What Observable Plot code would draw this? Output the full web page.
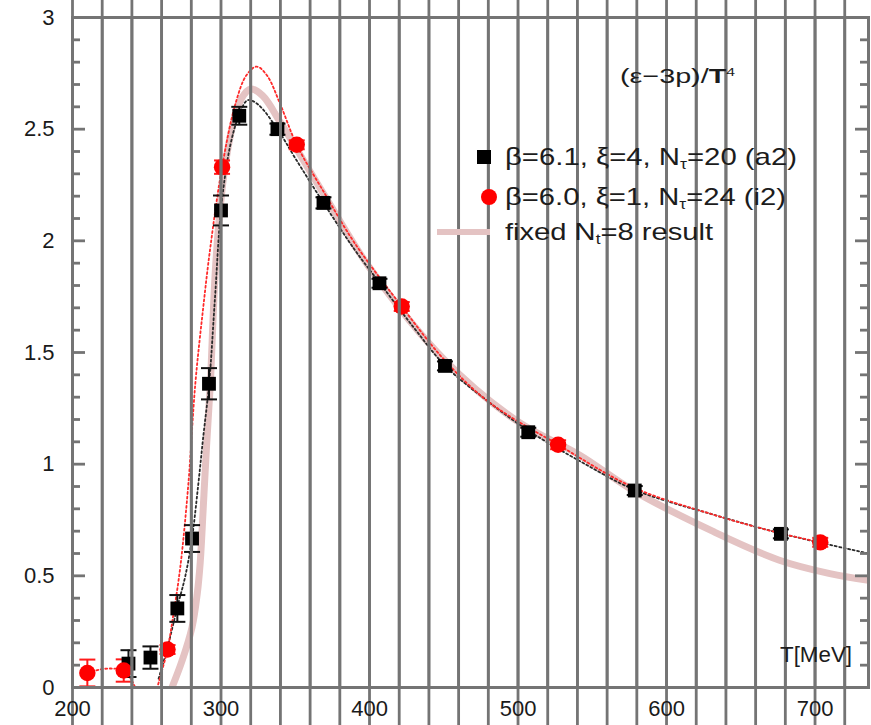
<!DOCTYPE html>
<html><head><meta charset="utf-8">
<script src="https://cdn.jsdelivr.net/npm/d3@7"></script>
<script src="https://cdn.jsdelivr.net/npm/@observablehq/plot@0.6"></script>
<style>
body{margin:0;background:#fff;}
#wrap{position:relative;width:871px;height:725px;font-family:"Liberation Sans",Arial,Helvetica,sans-serif;color:#1c1c1c;}
.lbl{position:absolute;white-space:nowrap;transform-origin:0 50%;line-height:1;}
.lbl sub{font-size:0.6em;vertical-align:-0.3em;line-height:0;}
.mk{position:absolute;}
</style></head><body><div id="wrap"></div>
<script>
// ---- data ----
// beta=6.1, xi=4, N_t=20 (a2): T [MeV], value, error
const a2T = [237.7, 252.5, 270.6, 280.5, 291.9, 300.0, 312.3, 338.0, 369.0, 406.7, 450.8, 506.9, 578.6, 677.0];
const a2V = [0.107, 0.134, 0.354, 0.667, 1.36, 2.136, 2.56, 2.50, 2.17, 1.81, 1.44, 1.143, 0.882, 0.688];
const a2E = [0.06, 0.05, 0.06, 0.06, 0.07, 0.067, 0.04, 0.025, 0.025, 0.02, 0.02, 0.02, 0.02, 0.02];
// beta=6.0, xi=1, N_t=24 (i2)
const i2T = [210.0, 234.5, 264.0, 300.7, 351.0, 421.7, 527.0, 703.5];
const i2V = [0.065, 0.076, 0.17, 2.33, 2.43, 1.706, 1.087, 0.65];
const i2E = [0.06, 0.05, 0.02, 0.03, 0.02, 0.02, 0.02, 0.02];
// dotted interpolation through a2
const fitA2T = [258, 264, 270.6, 276, 280.5, 284.7, 288, 292, 296, 300, 306, 312, 318, 325, 338, 350, 369, 390, 407, 430, 451, 480, 507, 540, 578.6, 631, 677, 736];
const fitA2V = [0.04, 0.18, 0.36, 0.5, 0.67, 0.91, 1.12, 1.36, 1.75, 2.14, 2.42, 2.56, 2.63, 2.61, 2.50, 2.37, 2.17, 1.96, 1.81, 1.61, 1.44, 1.28, 1.15, 1.02, 0.885, 0.775, 0.69, 0.60];
// dotted interpolation through i2
const fitI2T = [210, 218, 226, 234.5, 240, 244, 250, 257, 260, 264, 268, 272.6, 278, 282.7, 288, 292.8, 300.7, 310, 317, 324, 331, 340, 351, 370, 390, 421.7, 450, 480, 527, 578, 631, 677, 703.5];
const fitI2V = [0.065, 0.08, 0.085, 0.076, 0.03, -0.03, -0.12, 0.0, 0.07, 0.17, 0.33, 0.54, 0.91, 1.36, 1.70, 1.97, 2.33, 2.62, 2.74, 2.78, 2.74, 2.61, 2.43, 2.21, 1.99, 1.706, 1.47, 1.28, 1.087, 0.895, 0.775, 0.69, 0.65];
// fixed N_t=8 result
const nt8T = [267, 273.8, 280.5, 284, 286, 288, 290, 292.8, 296.5, 302, 308, 314, 320, 328, 340, 370, 400, 450, 500, 541.6, 578, 631, 676, 710, 736];
const nt8V = [0, 0.12, 0.27, 0.42, 0.56, 0.80, 1.05, 1.36, 1.90, 2.30, 2.52, 2.64, 2.68, 2.65, 2.53, 2.20, 1.88, 1.47, 1.19, 1.04, 0.88, 0.70, 0.57, 0.51, 0.48];
// ticks
const xMajor = [200, 300, 400, 500, 600, 700];
const xMinor = d3.range(220, 740, 20).filter(v => v % 100 !== 0);
const yMajor = [0, 0.5, 1, 1.5, 2, 2.5, 3];
const yMinor = d3.range(1, 30).filter(k => k % 5 !== 0).map(k => k / 10);
const xMin = 200, xMax = 736, yMin = 0, yMax = 3;

const W = 871, H = 725, mL = 72, mR = 3, mT = 17, mB = 38;
const innerW = W - mL - mR, innerH = H - mT - mB;

const pts = (T, V, E) => T.map((t, i) => ({T: t, v: V[i], e: E ? E[i] : 0}));
const a2 = pts(a2T, a2V, a2E), i2 = pts(i2T, i2V, i2E);
const fitA2 = pts(fitA2T, fitA2V), fitI2 = pts(fitI2T, fitI2V), nt8 = pts(nt8T, nt8V);

const cap = {draw(ctx, size) { const w = Math.sqrt(size / Math.PI); ctx.moveTo(-w, 0); ctx.lineTo(w, 0); }};
const axC = "#747474";
const tw = 2.8;
// inward ticks drawn as short rules (inset from the opposite side)
const ticksX = (data, L, side) => Plot.ruleX(data, {x: d => d, y1: () => yMin, y2: () => yMax,
  insetTop: side === "bottom" ? innerH - L : 0, insetBottom: side === "top" ? innerH - L : 0, stroke: axC, strokeWidth: tw});
const ticksY = (data, L, side) => Plot.ruleY(data, {y: d => d, x1: () => xMin, x2: () => xMax,
  insetRight: side === "left" ? innerW - L : 0, insetLeft: side === "right" ? innerW - L : 0, stroke: axC, strokeWidth: tw});

const chart = Plot.plot({
  width: W, height: H,
  marginLeft: mL, marginRight: mR, marginTop: mT, marginBottom: mB,
  x: {domain: [xMin, xMax]},
  y: {domain: [yMin, yMax]},
  style: {fontFamily: '"Liberation Sans", Arial, sans-serif'},
  marks: [
    Plot.line(nt8, {x: "T", y: "v", stroke: "#e4c3c3", strokeWidth: 7, curve: "catmull-rom", clip: true}),
    Plot.line(fitA2, {x: "T", y: "v", stroke: "#2a2a2a", strokeWidth: 1.8, strokeDasharray: "2,2.6", curve: "catmull-rom", clip: true}),
    Plot.line(fitI2, {x: "T", y: "v", stroke: "#ff2a2a", strokeWidth: 1.8, strokeDasharray: "2,2.6", curve: "catmull-rom", clip: true}),
    Plot.ruleX(a2, {x: "T", y1: d => d.v - d.e, y2: d => d.v + d.e, stroke: "#111", strokeWidth: 2}),
    Plot.dot(a2, {x: "T", y: d => d.v + d.e, symbol: cap, r: 8, fill: "none", stroke: "#111", strokeWidth: 2}),
    Plot.dot(a2, {x: "T", y: d => d.v - d.e, symbol: cap, r: 8, fill: "none", stroke: "#111", strokeWidth: 2}),
    Plot.ruleX(i2, {x: "T", y1: d => Math.max(0, d.v - d.e), y2: d => d.v + d.e, stroke: "#ff1a1a", strokeWidth: 2}),
    Plot.dot(i2, {x: "T", y: d => d.v + d.e, symbol: cap, r: 8, fill: "none", stroke: "#ff1a1a", strokeWidth: 2}),
    Plot.dot(i2, {x: "T", y: d => Math.max(0, d.v - d.e), symbol: cap, r: 8, fill: "none", stroke: "#ff1a1a", strokeWidth: 2}),
    Plot.dot(a2, {x: "T", y: "v", symbol: "square", r: 7.8, fill: "#000"}),
    Plot.dot(i2, {x: "T", y: "v", r: 8.2, fill: "#ff0000"}),
    // inward ticks on all four sides
    ticksX(xMajor, 13, "bottom"), ticksX(xMinor, 8, "bottom"),
    ticksX(xMajor, 13, "top"), ticksX(xMinor, 8, "top"),
    ticksY(yMajor, 13, "left"), ticksY(yMinor, 8, "left"),
    ticksY(yMajor, 13, "right"), ticksY(yMinor, 8, "right"),
    Plot.axisX(xMajor, {anchor: "bottom", tickSize: 0, tickPadding: 13, fontSize: 22, label: null, fill: "#1a1a1a"}),
    Plot.axisY(yMajor, {anchor: "left", tickSize: 0, tickPadding: 18, fontSize: 22, label: null, fill: "#1a1a1a", tickFormat: d => String(d)}),
    Plot.frame({stroke: axC, strokeWidth: 3})
  ]
});
const wrap = document.getElementById("wrap");
wrap.appendChild(chart);

function label(html, left, right, cy, size) {
  const d = document.createElement("div");
  d.className = "lbl"; d.innerHTML = html;
  d.style.fontSize = size + "px"; d.style.left = left + "px";
  wrap.appendChild(d);
  const r = d.getBoundingClientRect();
  d.style.top = (cy - r.height / 2) + "px";
  d.style.transform = `scaleX(${(right - left) / r.width})`;
}
function marker(css) { const m = document.createElement("div"); m.className = "mk"; Object.assign(m.style, css); wrap.appendChild(m); }

label("(ε\u22123p)/<b>T</b><sup style='font-size:0.55em;vertical-align:0.6em;line-height:0'>4</sup>", 620, 735, 75, 21);
label("T[MeV]", 780, 852, 655, 22);
marker({left: "477px", top: "150px", width: "14px", height: "14px", background: "#000"});
label("β=6.1, ξ=4, N<sub>τ</sub>=20 (a2)", 505, 797, 157, 24);
marker({left: "481px", top: "189px", width: "16px", height: "16px", borderRadius: "50%", background: "#ff0000"});
label("β=6.0, ξ=1, N<sub>τ</sub>=24 (i2)", 505, 786, 197, 24);
marker({left: "437px", top: "229px", width: "53px", height: "6px", background: "#e4c3c3"});
label("fixed N<sub>t</sub>=8 result", 505, 713, 232, 24);
</script>
</body></html>
